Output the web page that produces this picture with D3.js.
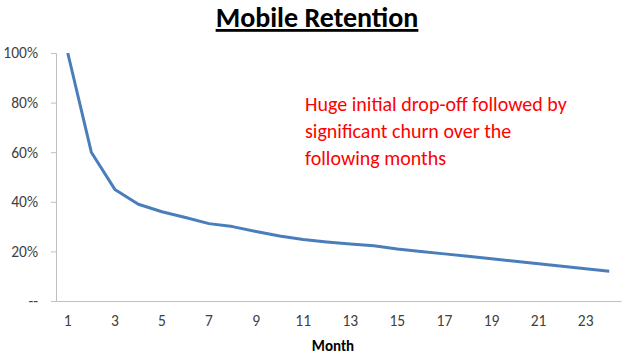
<!DOCTYPE html>
<html><head><meta charset="utf-8">
<script src="https://cdn.jsdelivr.net/npm/d3@7"></script>
<style>body{margin:0;background:#fff}svg{display:block}</style>
</head><body>
<script>
const months = d3.range(1, 25);
const retention = [100, 60, 45, 39, 36, 33.7, 31.2, 30, 28, 26.2, 24.8, 23.8, 23, 22.3, 21, 20, 19, 18, 17, 16, 15, 14, 13, 12];
const yTicks = [0, 20, 40, 60, 80, 100];
const yTickLabels = ["--", "20%", "40%", "60%", "80%", "100%"];
const xLabelMonths = [1, 3, 5, 7, 9, 11, 13, 15, 17, 19, 21, 23];
const annotation = ["Huge initial drop-off followed by", "significant churn over the", "following months"];

const W = 632, H = 354;
const svg = d3.select("body").append("svg").attr("width", W).attr("height", H);
const font = "Calibri, Carlito, Lato, 'Open Sans', sans-serif";

const x = d3.scaleBand().domain(months).range([56, 621]);
const y = d3.scaleLinear().domain([0, 100]).range([301, 53]);

// title
svg.append("text").attr("x", 317).attr("y", 27).attr("text-anchor", "middle")
  .attr("font-family", font).attr("font-weight", "bold").attr("font-size", 28)
  .attr("text-decoration", "underline").attr("fill", "#000").text("Mobile Retention");

// y axis
const yAxis = svg.append("g").attr("transform", "translate(56,0)")
  .call(d3.axisLeft(y).tickValues(yTicks).tickSize(5).tickPadding(13)
    .tickFormat((d, i) => yTickLabels[i]));
yAxis.select(".domain").attr("stroke", "#bfbfbf");
yAxis.selectAll(".tick line").attr("stroke", "#bfbfbf");
yAxis.selectAll("text").attr("font-family", font).attr("font-size", 15.5).attr("fill", "#404040");

// x axis
const xAxis = svg.append("g").attr("transform", "translate(0,301)")
  .call(d3.axisBottom(x).tickSize(0).tickPadding(14)
    .tickFormat(d => xLabelMonths.includes(d) ? d : ""));
xAxis.select(".domain").attr("stroke", "#bfbfbf");
xAxis.selectAll("text").attr("font-family", font).attr("font-size", 15.5).attr("fill", "#404040");

svg.append("text").attr("x", 333).attr("y", 351).attr("text-anchor", "middle")
  .attr("font-family", font).attr("font-weight", "bold").attr("font-size", 15)
  .attr("fill", "#000").text("Month");

// line
const line = d3.line().x((d, i) => x(months[i]) + x.bandwidth() / 2).y(d => y(d));
svg.append("path").datum(retention).attr("d", line).attr("fill", "none")
  .attr("stroke", "#4a7ebb").attr("stroke-width", 3).attr("stroke-linejoin", "round");

// annotation
const ann = svg.append("text").attr("font-family", font).attr("font-size", 20).attr("fill", "#ff0000");
annotation.forEach((t, i) => ann.append("tspan").attr("x", 305).attr("y", 111 + i * 27).text(t));
</script>
</body></html>
